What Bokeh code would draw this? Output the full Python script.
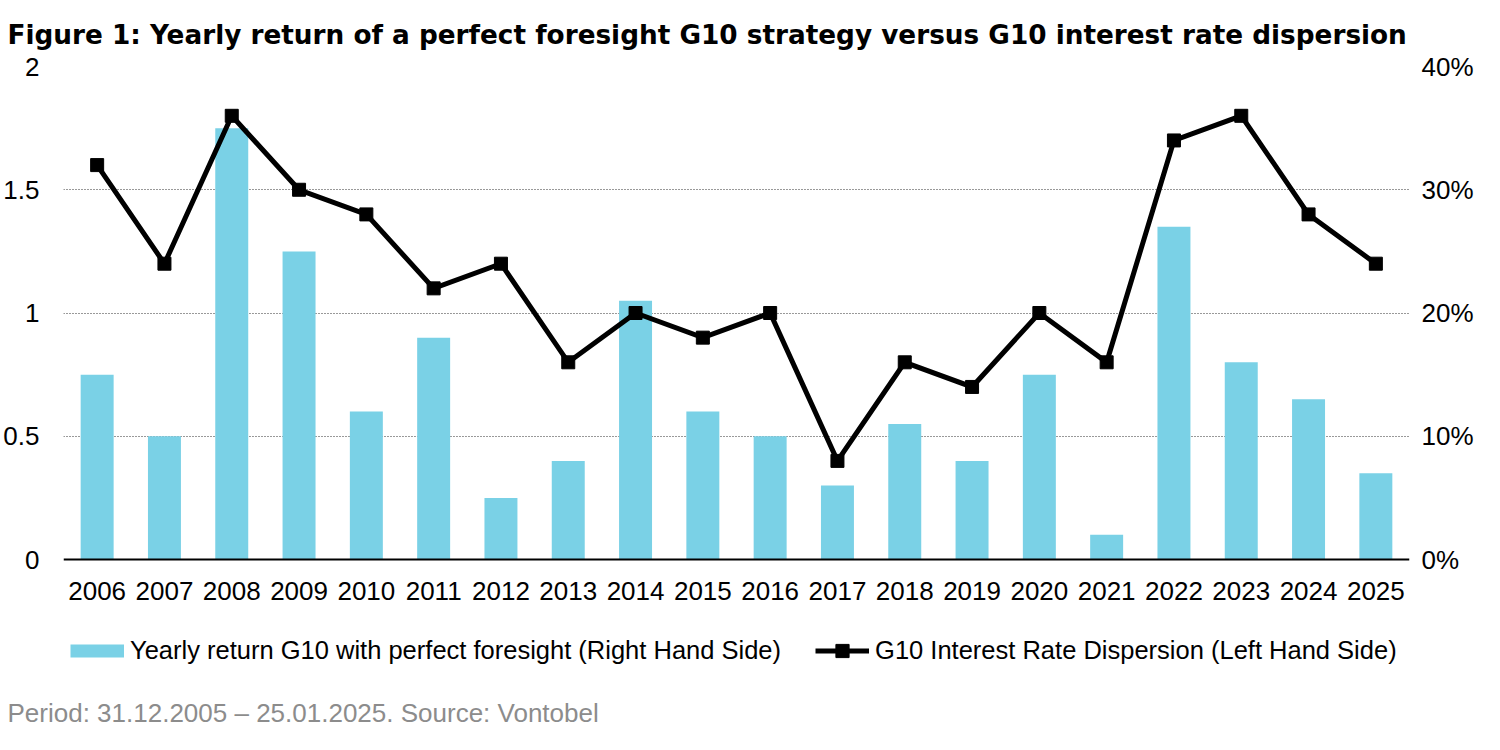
from bokeh.plotting import figure
from bokeh.models import (Range1d, LinearAxis, FixedTicker, Legend, LegendItem,
                          Title, FactorRange, Span)
from bokeh.core.properties import value
from bokeh.embed import file_html
from bokeh.resources import INLINE

# ---- data ----
years = ["2006", "2007", "2008", "2009", "2010", "2011", "2012", "2013", "2014", "2015",
         "2016", "2017", "2018", "2019", "2020", "2021", "2022", "2023", "2024", "2025"]
yearly_return_pct = [15, 10, 35, 25, 12, 18, 5, 8, 21, 12,
                     10, 6, 11, 8, 15, 2, 27, 16, 13, 7]
rate_dispersion = [1.6, 1.2, 1.8, 1.5, 1.4, 1.1, 1.2, 0.8, 1.0, 0.9,
                   1.0, 0.4, 0.8, 0.7, 1.0, 0.8, 1.7, 1.8, 1.4, 1.2]
left_ticks = [0, 0.5, 1, 1.5, 2]
left_tick_labels = ["0", "0.5", "1", "1.5", "2"]
right_ticks = [0, 10, 20, 30, 40]
right_tick_labels = ["0%", "10%", "20%", "30%", "40%"]

title_text = "Figure 1: Yearly return of a perfect foresight G10 strategy versus G10 interest rate dispersion"
footer_text = "Period: 31.12.2005 \u2013 25.01.2025. Source: Vontobel"
bar_label = "Yearly return G10 with perfect foresight (Right Hand Side)"
line_label = "G10 Interest Rate Dispersion (Left Hand Side)"

FONT = "Liberation Sans"
BAR_COLOR = "#7AD1E6"

# ---- layout geometry (pixels) ----
W, H = 1484, 734
TOP, BOTTOM = 66, 690          # frame top / bottom
ZERO_PX = 559                  # where value 0 sits
px_per_unit = (ZERO_PX - TOP) / 2.0
y_low = -(BOTTOM - ZERO_PX) / px_per_unit

p = figure(x_range=FactorRange(factors=years, range_padding=0),
           y_range=Range1d(y_low, 2),
           width=W, height=H,
           output_backend="svg", toolbar_location=None,
           x_axis_location=None,
           min_border_left=55, min_border_right=75,
           min_border_top=TOP, min_border_bottom=H - BOTTOM)
p.extra_y_ranges = {"pct": Range1d(y_low * 20, 40)}
p.outline_line_color = None
p.background_fill_color = "white"
p.border_fill_color = "white"

p.title = Title(text=title_text, align="left", text_font="DejaVu Sans",
                text_font_size="26.3px", text_font_style="bold", text_color="black",
                offset=-56, standoff=34)

bars = p.vbar(x=years, top=yearly_return_pct, width=0.49, bottom=0,
              y_range_name="pct", fill_color=BAR_COLOR, line_color=None)
line = p.line(x=years, y=rate_dispersion, line_color="black", line_width=5,
              line_join="miter")
pts = p.scatter(x=years, y=rate_dispersion, marker="square", size=13,
                fill_color="black", line_color="black")
# legend-only swatch for the bars (a single point: draws nothing in the plot)
bar_swatch = p.line(x=years[:1], y=[0], line_color=BAR_COLOR, line_width=13,
                    line_cap="butt")

# category baseline and year labels
p.add_layout(Span(location=0, dimension="width", line_color="black", line_width=2))
p.text(x=years, y=[0] * len(years), text=years, text_align="center",
       text_baseline="top", y_offset=22, text_font=value(FONT),
       text_font_size="26px", text_color="black")

# axes
ly = p.yaxis[0]
ly.axis_line_color = None
ly.major_tick_line_color = None
ly.minor_tick_line_color = None
ly.major_label_text_font = FONT
ly.major_label_text_font_size = "26px"
ly.major_label_text_color = "black"
ly.ticker = FixedTicker(ticks=left_ticks)
ly.major_label_overrides = {t: l for t, l in zip(left_ticks, left_tick_labels)}
ly.major_label_standoff = 18

right = LinearAxis(y_range_name="pct", ticker=FixedTicker(ticks=right_ticks),
                   major_label_overrides={t: l for t, l in zip(right_ticks, right_tick_labels)})
right.axis_line_color = None
right.major_tick_line_color = None
right.minor_tick_line_color = None
right.major_tick_out = 0
right.major_tick_in = 0
right.minor_tick_out = 0
right.major_label_text_font = FONT
right.major_label_text_font_size = "26px"
right.major_label_text_color = "black"
right.major_label_standoff = 12
p.add_layout(right, "right")

# grid
p.xgrid.grid_line_color = None
p.ygrid.ticker = FixedTicker(ticks=left_ticks[1:])
p.ygrid.grid_line_color = "#333333"
p.ygrid.grid_line_width = 1
p.ygrid.grid_line_dash = "1 2"

# legend inside the (extended) frame
legend = Legend(items=[LegendItem(label=bar_label, renderers=[bar_swatch]),
                       LegendItem(label=line_label, renderers=[line, pts])],
                orientation="horizontal", location=(7, BOTTOM - 666.5),
                glyph_width=54, glyph_height=33, label_standoff=6, spacing=34,
                label_text_font=FONT, label_text_font_size="25.5px",
                label_text_color="black",
                border_line_color=None, background_fill_alpha=0, padding=0,
                margin=0)
p.add_layout(legend, "center")

footer = Title(text=footer_text, align="left", text_font=FONT, text_font_size="26px",
               text_font_style="normal", text_color="#8c8c8c", offset=-56, standoff=11)
p.add_layout(footer, "below")

open("out.html", "w").write(file_html(p, INLINE))
